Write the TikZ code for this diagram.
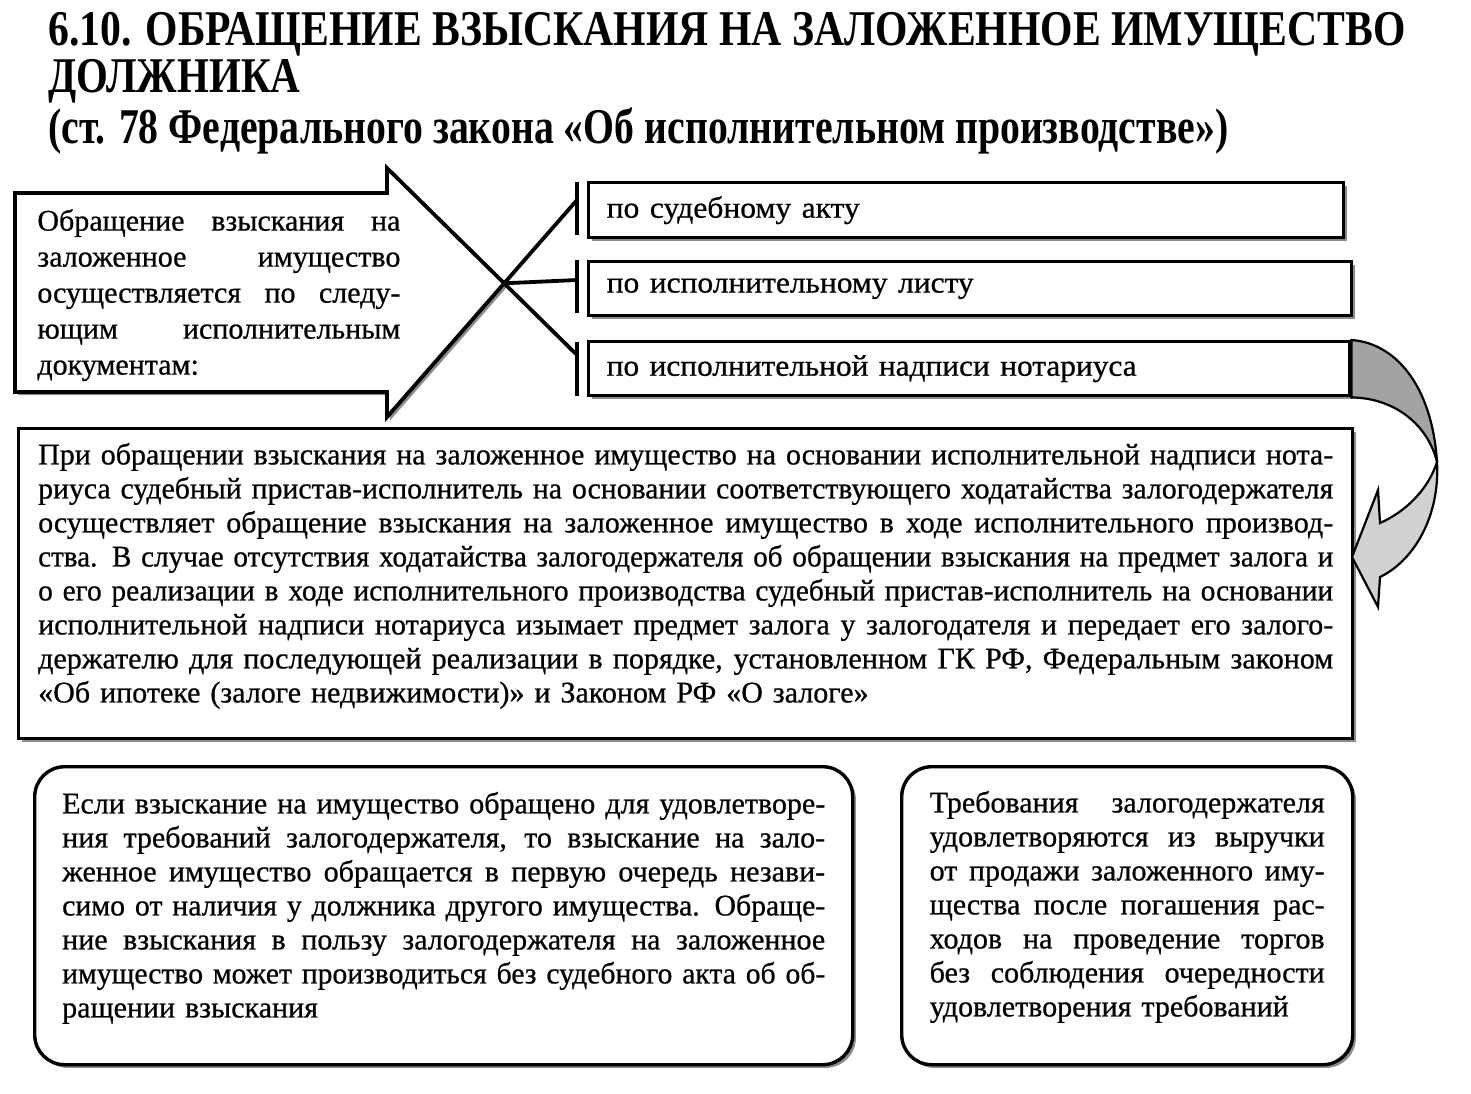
\documentclass[tikz,border=0pt]{standalone}
\usepackage{fontspec}
\setmainfont{Liberation Serif}
\newfontfamily\heavy[FakeBold=0.7]{Liberation Serif}
\usepackage{graphicx}
\usetikzlibrary{shadows,calc}
\newsavebox\lbox
\newcommand\jl[2]{\leavevmode\sbox\lbox{#2}\ifdim\wd\lbox>#1\relax\resizebox{#1}{\height}{\usebox\lbox}\else\hbox to #1{\spaceskip=\fontdimen2\font plus 1fil\xspaceskip=\fontdimen2\font plus 1fil\relax #2}\fi}
\newcommand\fw[2]{\resizebox{#1}{\height}{#2}}
\newcommand\deep[1]{\rule[-#1]{0pt}{0pt}}
\begin{document}
\begin{tikzpicture}[x=0.5pt,y=-0.5pt,
  lw/.style={line width=1.7pt},
  shad/.style={drop shadow={shadow xshift=1.6pt,shadow yshift=-1.6pt,fill=black!45,opacity=1}},
  bodyfont/.style={font=\heavy\fontsize{15}{17}\selectfont},
  lbox/.style={draw,lw,fill=white,shad,rectangle,anchor=north west,inner ysep=0pt,align=left,bodyfont},
  rbox/.style={lbox,rounded corners=15pt},
  titlefont/.style={font=\fontsize{25}{30}\selectfont\bfseries},
  conn/.style={line width=1.9pt,line cap=round},
  brk/.style={line width=1.6pt},
  arrowup/.style={draw,line width=1.1pt,fill=black!36},
  arrowlow/.style={draw,line width=1.1pt,fill=black!18}]
\path[use as bounding box] (0,0) rectangle (1471,1093);

% title
\node[titlefont,anchor=base west,inner sep=0pt] (t1) at (48,45) {\fw{678.5pt}{6.10. ОБРАЩЕНИЕ ВЗЫСКАНИЯ НА ЗАЛОЖЕННОЕ ИМУЩЕСТВО}};
\node[titlefont,anchor=base west,inner sep=0pt] (t2) at (48,92) {\fw{126pt}{ДОЛЖНИКА}};
\node[titlefont,anchor=base west,inner sep=0pt] (t3) at (48,143) {\fw{590pt}{(ст. 78 Федерального закона «Об исполнительном производстве»)}};

% left arrow
\coordinate (ht) at (387,168);
\coordinate (hb) at (387,417);
\coordinate (e1) at (577,200);
\coordinate (e2) at (577,280);
\coordinate (e3) at (577,355);
\coordinate (x) at (intersection of ht--e3 and hb--e1);
\draw[lw,line width=1.9pt,fill=white,shad,line join=miter] (15,193) -- (387,193) -- (ht) -- (x) -- (hb) -- (387,392) -- (15,392) -- cycle;
\node[anchor=north west,inner sep=0pt,align=left,text width=181.5pt,font=\heavy\fontsize{15}{18}\selectfont] (la) at (37,205) {%
\noindent\strut\jl{181.5pt}{Обращение взыскания на}\\
\jl{181.5pt}{заложенное имущество}\\
\jl{181.5pt}{осуществляется по следу-}\\
\jl{181.5pt}{ющим исполнительным}\\
документам:};

% three boxes
\node[lbox,minimum width=377.5pt,minimum height=27.5pt,text width=359.5pt,inner xsep=9pt] (b1) at (587,181) {\fw{126.5pt}{по судебному акту}};
\node[lbox,minimum width=381.5pt,minimum height=27pt,text width=363.5pt,inner xsep=9pt] (b2) at (587,260) {\fw{183.5pt}{по исполнительному листу}};
\node[lbox,minimum width=380.5pt,minimum height=27pt,text width=362.5pt,inner xsep=9pt] (b3) at (587,340) {\fw{265pt}{по исполнительной надписи нотариуса}};

% brackets and connectors
\draw[brk] (577,182) -- (577,235);
\draw[brk] (577,260) -- (577,313);
\draw[brk] (577,342) -- (577,396);
\draw[conn] (x) -- (e1);
\draw[conn] (x) -- (e2);
\draw[conn] (x) -- (e3);

% big box
\node[lbox,minimum width=667pt,minimum height=155pt,text width=647.5pt,inner xsep=9.75pt] (big) at (17,427) {%
\noindent\jl{647.5pt}{При обращении взыскания на заложенное имущество на основании исполнительной надписи нота-}\\
\jl{647.5pt}{риуса судебный пристав-исполнитель на основании соответствующего ходатайства залогодержателя}\\
\jl{647.5pt}{осуществляет обращение взыскания на заложенное имущество в ходе исполнительного производ-}\\
\jl{647.5pt}{ства. В случае отсутствия ходатайства залогодержателя об обращении взыскания на предмет залога и}\\
\jl{647.5pt}{о его реализации в ходе исполнительного производства судебный пристав-исполнитель на основании}\\
\jl{647.5pt}{исполнительной надписи нотариуса изымает предмет залога у залогодателя и передает его залого-}\\
\jl{647.5pt}{держателю для последующей реализации в порядке, установленном ГК РФ, Федеральным законом}\\
«Об ипотеке (залоге недвижимости)» и Законом РФ «О залоге»\deep{11pt}};

% curved arrow
\coordinate (cm) at (1437,462);
\coordinate (tip) at (1352,557);
\draw[arrowup] (b3.north east) .. controls (1395,343) and (1432,385) .. (cm) .. controls (1428,425) and (1395,398) .. (b3.south east) -- cycle;
\draw[arrowlow,line join=miter] (cm) .. controls (1440,515) and (1415,560) .. (1380,577) -- (1378,607) -- (tip) -- (1378,490) -- (1380,523) .. controls (1405,512) and (1428,490) .. (cm) -- cycle;

% bottom boxes
\node[rbox,minimum width=409pt,minimum height=149pt,text width=381.5pt,inner xsep=13.75pt] (bl) at (33,765) {%
\noindent\jl{381.5pt}{Если взыскание на имущество обращено для удовлетворе-}\\
\jl{381.5pt}{ния требований залогодержателя, то взыскание на зало-}\\
\jl{381.5pt}{женное имущество обращается в первую очередь незави-}\\
\jl{381.5pt}{симо от наличия у должника другого имущества. Обраще-}\\
\jl{381.5pt}{ние взыскания в пользу залогодержателя на заложенное}\\
\jl{381.5pt}{имущество может производиться без судебного акта об об-}\\
ращении взыскания\deep{11pt}};
\node[rbox,minimum width=225.5pt,minimum height=149pt,text width=197.5pt,inner xsep=14pt] (br) at (900,765) {%
\noindent\jl{197.5pt}{Требования залогодержателя}\\
\jl{197.5pt}{удовлетворяются из выручки}\\
\jl{197.5pt}{от продажи заложенного иму-}\\
\jl{197.5pt}{щества после погашения рас-}\\
\jl{197.5pt}{ходов на проведение торгов}\\
\jl{197.5pt}{без соблюдения очередности}\\
удовлетворения требований\deep{12pt}};
\end{tikzpicture}
\end{document}
